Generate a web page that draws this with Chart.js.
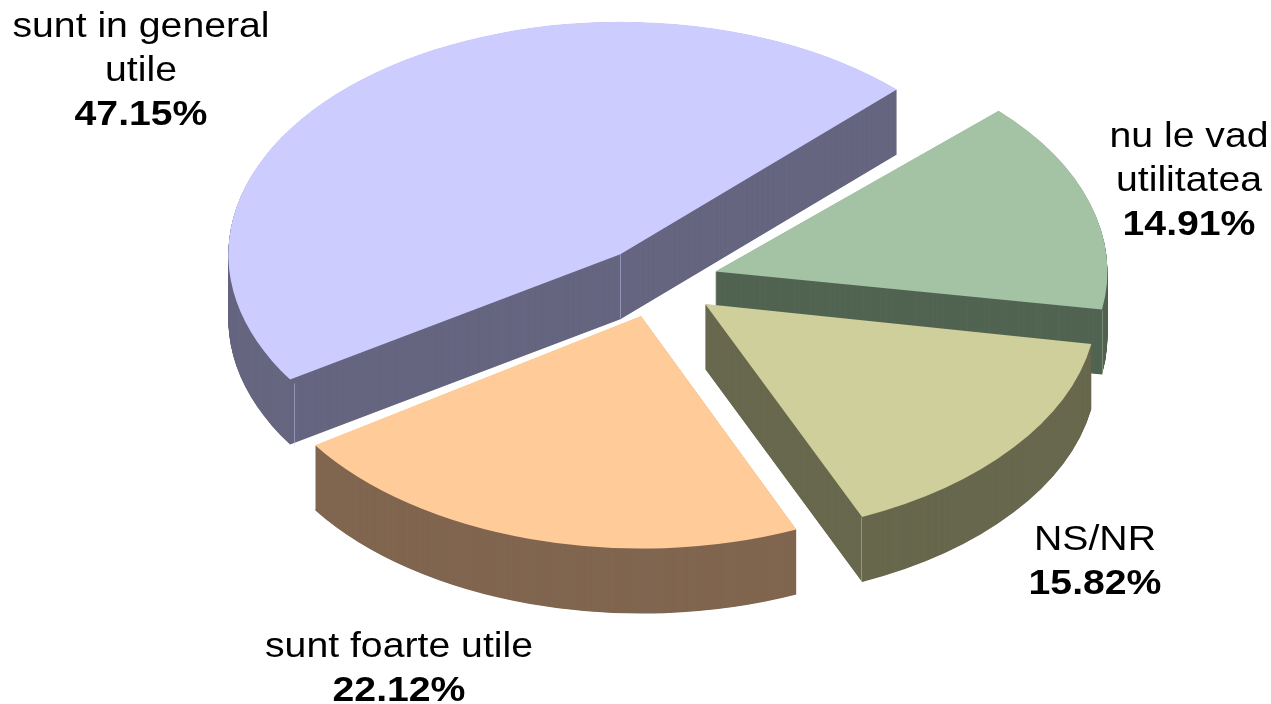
<!DOCTYPE html>
<html>
<head>
<meta charset="utf-8">
<title>Pie</title>
<script src="https://cdn.jsdelivr.net/npm/chart.js@4/dist/chart.umd.min.js"></script>
<style>
  html, body { margin: 0; padding: 0; background: #fff; overflow: hidden; }
</style>
</head>
<body>
<canvas id="myChart" width="1271" height="704"></canvas>
<script>
// data, clockwise from the first slice
const sliceNames = [['nu le vad', 'utilitatea'], ['NS/NR'], ['sunt foarte utile'], ['sunt in general', 'utile']];
const sliceValues = [14.91, 15.82, 22.12, 47.15];

// colours
const topColors = ['#a4c2a4', '#cfcf9b', '#ffcc99', '#ccccff'];
const sideColors = ['#526452', '#68684e', '#806650', '#666680'];

// where the labels go (center x, first baseline y)
const labelPos = [[1189, 147], [1095, 550], [399, 657], [141, 37]];

const tilt = 0.593;      // squash of the pie
const depth = 65;        // height of the side walls
const pieCenterY = 282;
const pieRadius = 392;
const explode = 60;      // how far each slice is pulled out
const textStretch = 1.12; // the labels are wider than the font
const drawOrder = [0, 3, 2, 1]; // back to front
// light vertical edges on the walls: slice, corner
const wallEdges = [[0, 'end'], [3, 'apex'], [3, 'start'], [2, 'end'], [1, 'end']];

// draws the slices squashed, with the side wall stacked under each one
const pie3d = {
    id: 'pie3d',
    beforeDatasetsDraw(chart) {
        const c = chart.ctx;
        const arcs = chart.getDatasetMeta(0).data;
        const midY = (chart.chartArea.top + chart.chartArea.bottom) / 2;

        // arc.draw grows small offset slices differently, so even them out
        arcs.forEach(arc => {
            const fix = 1 - Math.sin(Math.min(Math.PI, arc.circumference));
            arc.outerRadius = pieRadius - explode * fix;
        });

        function drawArc(arc, color, dy) {
            const saved = arc.options;
            const o = Object.create(saved);
            o.backgroundColor = color;
            arc.options = o;
            c.save();
            c.translate(0, pieCenterY + dy);
            c.scale(1, tilt);
            c.translate(0, -midY);
            arc.draw(c);
            c.restore();
            arc.options = saved;
        }

        function drawEdge(i, corner) {
            const arc = arcs[i];
            const mid = (arc.startAngle + arc.endAngle) / 2;
            let x = arc.x + Math.cos(mid) * explode;
            let y = pieCenterY + Math.sin(mid) * explode * tilt + (arc.y - midY) * tilt;
            if (corner !== 'apex') {
                const a = corner === 'start' ? arc.startAngle : arc.endAngle;
                x += Math.cos(a) * pieRadius;
                y += Math.sin(a) * pieRadius * tilt;
            }
            c.save();
            c.strokeStyle = topColors[i];
            c.globalAlpha = 0.45;
            c.lineWidth = 1;
            c.beginPath();
            c.moveTo(Math.round(x) + 0.5, y);
            c.lineTo(Math.round(x) + 0.5, y + depth - 1);
            c.stroke();
            c.restore();
        }

        drawOrder.forEach(i => {
            for (let d = depth; d > 0; d -= 0.5) {
                drawArc(arcs[i], sideColors[i], d);
            }
            wallEdges.filter(e => e[0] === i).forEach(e => drawEdge(e[0], e[1]));
            drawArc(arcs[i], topColors[i], 0);
        });
        return false; // we already drew them
    },
    afterDraw(chart) {
        const c = chart.ctx;
        sliceNames.forEach((lines, i) => {
            let y = labelPos[i][1];
            const rows = lines.concat(sliceValues[i].toFixed(2) + '%');
            rows.forEach((line, r) => {
                c.save();
                c.translate(labelPos[i][0], y);
                c.scale(textStretch, 1);
                c.fillStyle = '#000';
                c.textAlign = 'center';
                c.font = (r === rows.length - 1 ? 'bold ' : '') + '35px "Liberation Sans", Arial, sans-serif';
                c.fillText(line, 0, 0);
                c.restore();
                y += 44;
            });
        });
    }
};

const ctx = document.getElementById('myChart').getContext('2d');
const myChart = new Chart(ctx, {
    type: 'pie',
    data: {
        labels: sliceNames.map(n => n.join(' ')),
        datasets: [{
            data: sliceValues,
            backgroundColor: topColors,
            borderWidth: 0,
            offset: explode * 4,
        }]
    },
    options: {
        responsive: false,
        animation: false,
        events: [],
        rotation: 46,
        radius: pieRadius,
        layout: { padding: { left: 45 } },
        plugins: {
            legend: { display: false },
            tooltip: { enabled: false },
        }
    },
    plugins: [pie3d]
});
</script>
</body>
</html>
